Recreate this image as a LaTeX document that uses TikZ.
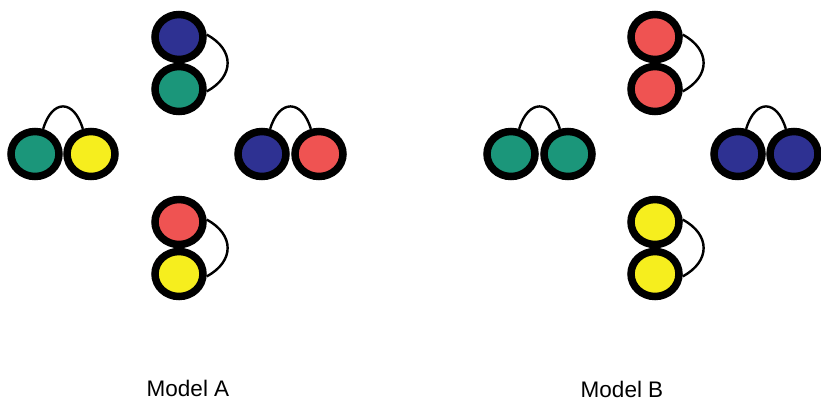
\documentclass[tikz,border=0pt]{standalone}
\usepackage{fontspec}
\setmainfont{Liberation Sans}
\usetikzlibrary{shapes.geometric}
\definecolor{cblue}{RGB}{46,49,146}
\definecolor{cteal}{RGB}{27,150,122}
\definecolor{cyellow}{RGB}{246,238,30}
\definecolor{cred}{RGB}{239,83,82}
\begin{document}
\begin{tikzpicture}[x=1pt,y=-1pt,
  ball/.style={ellipse,draw=black,line width=7.5pt,minimum width=48pt,minimum height=45pt,inner sep=0pt},
  link/.style={draw=black,line width=2.4pt},
  vlink/.style={link,to path={.. controls +(28,15) and +(28,-15) .. (\tikztotarget)}},
  hlink/.style={link,to path={.. controls +(9,-30) and +(-9,-30) .. (\tikztotarget)}},
  lbl/.style={font=\fontsize{22.5}{26}\selectfont,anchor=base,inner sep=0pt}]
\useasboundingbox (0,0) rectangle (821,402);
% ---------- Model A ----------
\node[ball,fill=cblue]   (at1) at (179,37) {};
\node[ball,fill=cteal]   (at2) at (179,89) {};
\node[ball,fill=cteal]   (al1) at (35,154) {};
\node[ball,fill=cyellow] (al2) at (91,154) {};
\node[ball,fill=cblue]   (ar1) at (262,154) {};
\node[ball,fill=cred]    (ar2) at (319,154) {};
\node[ball,fill=cred]    (ab1) at (179,222) {};
\node[ball,fill=cyellow] (ab2) at (179,274) {};
\draw[vlink] (at1.5) to (at2.-5);
\draw[vlink] (ab1.5) to (ab2.-5);
\draw[hlink] (al1.72) to (al2.108);
\draw[hlink] (ar1.72) to (ar2.108);
% ---------- Model B ----------
\node[ball,fill=cred]    (bt1) at (655,37) {};
\node[ball,fill=cred]    (bt2) at (655,89) {};
\node[ball,fill=cteal]   (bl1) at (511,154) {};
\node[ball,fill=cteal]   (bl2) at (568,154) {};
\node[ball,fill=cblue]   (br1) at (738,154) {};
\node[ball,fill=cblue]   (br2) at (794,154) {};
\node[ball,fill=cyellow] (bb1) at (655,222) {};
\node[ball,fill=cyellow] (bb2) at (655,274) {};
\draw[vlink] (bt1.5) to (bt2.-5);
\draw[vlink] (bb1.5) to (bb2.-5);
\draw[hlink] (bl1.72) to (bl2.108);
\draw[hlink] (br1.72) to (br2.108);
% ---------- labels ----------
\node[lbl] (la) at (188,396) {Model A};
\node[lbl] (lb) at (622,397.5) {Model B};
\end{tikzpicture}
\end{document}
